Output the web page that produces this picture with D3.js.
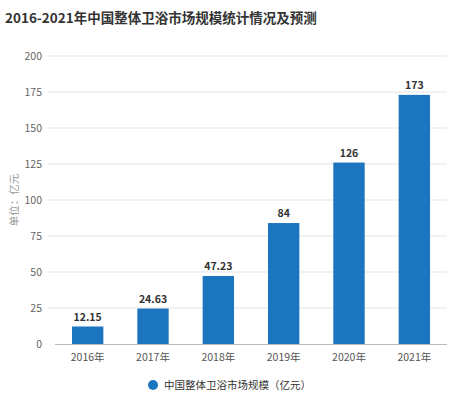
<!DOCTYPE html>
<html><head><meta charset="utf-8">
<script src="https://cdn.jsdelivr.net/npm/d3@7"></script>
<style>body{margin:0;background:#fff;}</style>
</head><body>
<svg id="c" width="450" height="395"></svg>
<script>
const categories = ["2016年","2017年","2018年","2019年","2020年","2021年"];
const values = [12.15, 24.63, 47.23, 84, 126, 173];
const valueLabels = ["12.15","24.63","47.23","84","126","173"];
const yTicks = [0,25,50,75,100,125,150,175,200];
const seriesName = "中国整体卫浴市场规模（亿元）";
const title = "2016-2021年中国整体卫浴市场规模统计情况及预测";
const yLabel = "单位：亿元";

const svg = d3.select("#c");
const font = "'Noto Sans CJK SC','Microsoft YaHei',sans-serif";
const barColor = "#1c75bf";

svg.append("text").attr("x",5).attr("y",23).attr("font-family",font)
  .attr("font-size",13.5).attr("font-weight","bold").attr("fill","#333").text(title);

const x = d3.scaleBand().domain(categories).range([55,447]).paddingInner(0.52).paddingOuter(0.26);
const y = d3.scaleLinear().domain([0,200]).range([344,56]);

// gridlines
svg.append("g").selectAll("line").data(yTicks.filter(d=>d>0)).join("line")
  .attr("x1",48).attr("x2",447).attr("y1",d=>y(d)).attr("y2",d=>y(d))
  .attr("stroke","#e3e3e3").attr("stroke-width",1);

// y axis tick labels
svg.append("g").selectAll("text").data(yTicks).join("text")
  .attr("x",42).attr("y",d=>y(d)+4).attr("text-anchor","end")
  .attr("font-family",font).attr("font-size",10.5).attr("fill","#666").text(d=>d);

// bars
svg.append("g").selectAll("rect").data(values).join("rect")
  .attr("x",(d,i)=>x(categories[i])).attr("width",x.bandwidth())
  .attr("y",d=>y(d)).attr("height",d=>y(0)-y(d)).attr("fill",barColor);

// baseline
svg.append("line").attr("x1",55).attr("x2",447).attr("y1",y(0)+0.5).attr("y2",y(0)+0.5)
  .attr("stroke","#bbb").attr("stroke-width",1);

// value labels
svg.append("g").selectAll("text").data(values).join("text")
  .attr("x",(d,i)=>x(categories[i])+x.bandwidth()/2).attr("y",d=>y(d)-6)
  .attr("text-anchor","middle").attr("font-family",font).attr("font-size",10.5)
  .attr("font-weight","bold").attr("fill","#333").text((d,i)=>valueLabels[i]);

// x labels
svg.append("g").selectAll("text").data(categories).join("text")
  .attr("x",d=>x(d)+x.bandwidth()/2).attr("y",361).attr("text-anchor","middle")
  .attr("font-family",font).attr("font-size",10.5).attr("fill","#555").text(d=>d);

// y label
svg.append("text").attr("transform","translate(18,200) rotate(-90)").attr("text-anchor","middle")
  .attr("font-family",font).attr("font-size",10.5).attr("fill","#999").text(yLabel);

// legend
svg.append("circle").attr("cx",153).attr("cy",385).attr("r",5).attr("fill",barColor);
svg.append("text").attr("x",164).attr("y",389).attr("font-family",font).attr("font-size",10.5)
  .attr("fill","#333").text(seriesName);
</script>
</body></html>
